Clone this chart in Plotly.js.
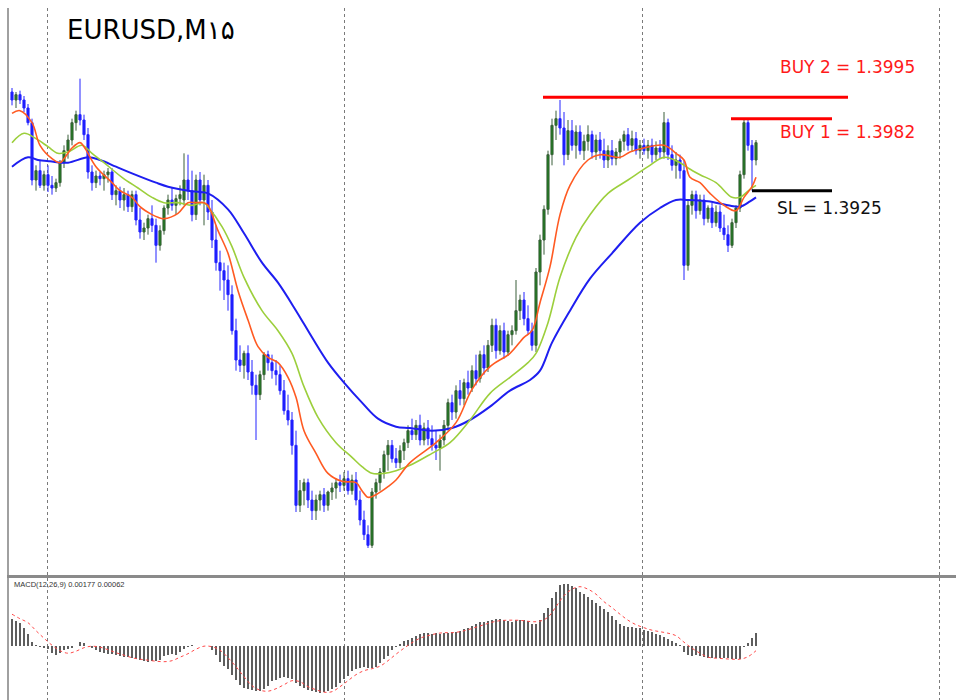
<!DOCTYPE html>
<html><head><meta charset="utf-8">
<script src="https://cdn.plot.ly/plotly-3.0.1.min.js"></script>
<style>html,body{margin:0;padding:0;background:#fff;}#chart{width:956px;height:700px;}</style>
</head><body><div id="chart"></div>
<script>
// EURUSD M15 candles
const openP = [1.3999,1.3993,1.3997,1.3993,1.3987,1.3976,1.3933,1.3940,1.3929,1.3937,
1.3929,1.3927,1.3931,1.3946,1.3955,1.3963,1.3976,1.3982,1.3978,1.3967,
1.3939,1.3931,1.3936,1.3934,1.3937,1.3939,1.3922,1.3925,1.3918,1.3922,
1.3913,1.3922,1.3903,1.3894,1.3897,1.3904,1.3899,1.3884,1.3895,1.3912,
1.3918,1.3914,1.3919,1.3918,1.3933,1.3925,1.3907,1.3933,1.3918,1.3929,
1.3909,1.3888,1.3871,1.3865,1.3858,1.3847,1.3820,1.3798,1.3794,1.3803,
1.3789,1.3779,1.3772,1.3787,1.3802,1.3796,1.3790,1.3787,1.3775,1.3760,
1.3753,1.3734,1.3689,1.3700,1.3706,1.3693,1.3685,1.3693,1.3697,1.3689,
1.3699,1.3702,1.3706,1.3704,1.3709,1.3700,1.3708,1.3693,1.3678,1.3667,
1.3659,1.3699,1.3706,1.3714,1.3727,1.3734,1.3724,1.3721,1.3730,1.3736,
1.3745,1.3742,1.3749,1.3738,1.3747,1.3739,1.3734,1.3732,1.3738,1.3749,
1.3766,1.3759,1.3775,1.3769,1.3781,1.3777,1.3790,1.3784,1.3802,1.3792,
1.3809,1.3824,1.3805,1.3820,1.3804,1.3817,1.3820,1.3835,1.3843,1.3829,
1.3820,1.3809,1.3864,1.3888,1.3911,1.3952,1.3974,1.3979,1.3972,1.3952,
1.3970,1.3959,1.3969,1.3955,1.3962,1.3967,1.3954,1.3963,1.3955,1.3948,
1.3955,1.3949,1.3954,1.3962,1.3967,1.3959,1.3964,1.3955,1.3959,1.3955,
1.3959,1.3952,1.3957,1.3954,1.3976,1.3952,1.3944,1.3948,1.3940,1.3869,
1.3914,1.3922,1.3910,1.3918,1.3904,1.3912,1.3901,1.3909,1.3897,1.3892,
1.3884,1.3901,1.3912,1.3937,1.3976,1.3959,1.3948];
const highP = [1.4002,1.3999,1.4000,1.3996,1.3990,1.3979,1.3944,1.3948,1.3940,1.3944,
1.3936,1.3934,1.3948,1.3959,1.3967,1.3979,1.3985,1.4009,1.3982,1.3972,
1.3944,1.3940,1.3939,1.3940,1.3942,1.3942,1.3929,1.3928,1.3927,1.3925,
1.3925,1.3925,1.3912,1.3901,1.3907,1.3914,1.3904,1.3899,1.3914,1.3922,
1.3927,1.3922,1.3929,1.3953,1.3952,1.3940,1.3937,1.3939,1.3937,1.3933,
1.3918,1.3899,1.3880,1.3871,1.3869,1.3854,1.3829,1.3809,1.3805,1.3809,
1.3798,1.3787,1.3790,1.3804,1.3805,1.3802,1.3798,1.3794,1.3783,1.3772,
1.3759,1.3745,1.3708,1.3709,1.3709,1.3700,1.3697,1.3700,1.3702,1.3700,
1.3706,1.3709,1.3712,1.3714,1.3715,1.3712,1.3714,1.3700,1.3685,1.3674,
1.3702,1.3709,1.3717,1.3730,1.3738,1.3738,1.3732,1.3734,1.3739,1.3749,
1.3754,1.3753,1.3757,1.3751,1.3753,1.3749,1.3745,1.3742,1.3753,1.3769,
1.3772,1.3779,1.3783,1.3784,1.3790,1.3794,1.3802,1.3805,1.3809,1.3813,
1.3829,1.3829,1.3824,1.3826,1.3820,1.3824,1.3858,1.3847,1.3849,1.3839,
1.3826,1.3867,1.3892,1.3914,1.3955,1.3979,1.3985,1.3993,1.3984,1.3978,
1.3978,1.3974,1.3974,1.3967,1.3974,1.3970,1.3967,1.3969,1.3964,1.3959,
1.3963,1.3957,1.3964,1.3970,1.3972,1.3970,1.3969,1.3963,1.3964,1.3963,
1.3964,1.3962,1.3963,1.3984,1.3979,1.3959,1.3954,1.3952,1.3948,1.3918,
1.3925,1.3925,1.3922,1.3922,1.3914,1.3916,1.3914,1.3914,1.3907,1.3899,
1.3904,1.3914,1.3940,1.3979,1.3978,1.3963,1.3963];
const lowP = [1.3989,1.3987,1.3990,1.3984,1.3974,1.3929,1.3925,1.3927,1.3925,1.3924,
1.3922,1.3924,1.3928,1.3942,1.3949,1.3959,1.3970,1.3974,1.3963,1.3934,
1.3925,1.3927,1.3929,1.3925,1.3931,1.3918,1.3914,1.3912,1.3910,1.3909,
1.3909,1.3899,1.3889,1.3888,1.3892,1.3894,1.3871,1.3880,1.3892,1.3907,
1.3910,1.3907,1.3914,1.3914,1.3918,1.3902,1.3903,1.3914,1.3899,1.3903,
1.3882,1.3865,1.3850,1.3843,1.3835,1.3817,1.3790,1.3789,1.3784,1.3783,
1.3772,1.3738,1.3768,1.3783,1.3790,1.3784,1.3779,1.3772,1.3757,1.3749,
1.3727,1.3684,1.3684,1.3689,1.3687,1.3678,1.3678,1.3685,1.3684,1.3685,
1.3693,1.3694,1.3699,1.3700,1.3697,1.3697,1.3689,1.3674,1.3663,1.3657,
1.3657,1.3694,1.3700,1.3709,1.3715,1.3721,1.3717,1.3717,1.3723,1.3732,
1.3738,1.3738,1.3734,1.3734,1.3734,1.3730,1.3723,1.3715,1.3734,1.3745,
1.3753,1.3754,1.3764,1.3764,1.3772,1.3774,1.3779,1.3781,1.3787,1.3789,
1.3804,1.3799,1.3802,1.3799,1.3801,1.3809,1.3817,1.3828,1.3824,1.3817,
1.3805,1.3804,1.3854,1.3877,1.3907,1.3944,1.3963,1.3967,1.3944,1.3948,
1.3955,1.3949,1.3952,1.3948,1.3955,1.3949,1.3948,1.3949,1.3942,1.3942,
1.3944,1.3944,1.3949,1.3955,1.3955,1.3954,1.3952,1.3949,1.3952,1.3949,
1.3946,1.3948,1.3949,1.3949,1.3948,1.3940,1.3934,1.3934,1.3858,1.3865,
1.3907,1.3904,1.3907,1.3899,1.3901,1.3897,1.3898,1.3894,1.3888,1.3879,
1.3882,1.3897,1.3909,1.3934,1.3955,1.3925,1.3944];
const closeP = [1.3993,1.3997,1.3993,1.3987,1.3976,1.3933,1.3940,1.3929,1.3937,1.3929,
1.3927,1.3931,1.3946,1.3955,1.3963,1.3976,1.3982,1.3978,1.3967,1.3939,
1.3931,1.3936,1.3934,1.3937,1.3939,1.3922,1.3925,1.3918,1.3922,1.3913,
1.3922,1.3903,1.3894,1.3897,1.3904,1.3899,1.3884,1.3895,1.3912,1.3918,
1.3914,1.3919,1.3922,1.3933,1.3925,1.3907,1.3933,1.3918,1.3929,1.3909,
1.3888,1.3871,1.3865,1.3858,1.3847,1.3820,1.3798,1.3794,1.3803,1.3789,
1.3779,1.3772,1.3787,1.3802,1.3796,1.3790,1.3787,1.3775,1.3760,1.3753,
1.3734,1.3689,1.3700,1.3706,1.3693,1.3685,1.3693,1.3697,1.3689,1.3699,
1.3702,1.3706,1.3704,1.3709,1.3700,1.3708,1.3693,1.3678,1.3667,1.3659,
1.3699,1.3706,1.3714,1.3727,1.3734,1.3724,1.3721,1.3730,1.3736,1.3745,
1.3742,1.3749,1.3738,1.3747,1.3739,1.3734,1.3732,1.3738,1.3749,1.3766,
1.3759,1.3775,1.3769,1.3781,1.3777,1.3790,1.3784,1.3802,1.3792,1.3809,
1.3824,1.3805,1.3820,1.3804,1.3817,1.3820,1.3835,1.3843,1.3829,1.3820,
1.3809,1.3864,1.3888,1.3911,1.3952,1.3974,1.3979,1.3972,1.3952,1.3970,
1.3959,1.3969,1.3955,1.3962,1.3967,1.3954,1.3963,1.3955,1.3948,1.3955,
1.3949,1.3954,1.3962,1.3967,1.3959,1.3964,1.3955,1.3959,1.3955,1.3959,
1.3952,1.3957,1.3954,1.3976,1.3952,1.3944,1.3948,1.3940,1.3869,1.3914,
1.3922,1.3910,1.3918,1.3904,1.3912,1.3901,1.3909,1.3897,1.3892,1.3884,
1.3901,1.3912,1.3937,1.3976,1.3959,1.3948,1.3961];

// moving averages (bar index, price)
const maFastX = [0,2,5,7,10,12,13,15,17,18,21,25,27,30,32,35,36.5,38,41.5,44,46,48,49,51.5,54,56.5,59,61.5,64,66.5,69,71,73,76,79,82.5,86,87.5,89,91,94,96,99.5,106,111,115,119.5,124.5,128,130,132,134.5,137,139.5,144,147,152,154.5,158,163,166,168,169.5,172,174.5,178,181,183,185,186];
const maFast = [1.3983,1.3985,1.3976,1.3959,1.3949,1.3946,1.3949,1.3957,1.3961,1.3958,1.3943,1.3931,1.3925,1.3920,1.3913,1.3907,1.3905,1.3904,1.3908,1.3916,1.3916,1.3916,1.3914,1.3895,1.3878,1.3850,1.3828,1.3808,1.3800,1.3796,1.3785,1.3770,1.3745,1.3728,1.3713,1.3707,1.3706,1.3700,1.3695,1.3697,1.3703,1.3708,1.3721,1.3736,1.3751,1.3776,1.3793,1.3803,1.3815,1.3820,1.3841,1.3868,1.3907,1.3929,1.3948,1.3952,1.3950,1.3954,1.3957,1.3959,1.3953,1.3948,1.3935,1.3931,1.3923,1.3914,1.3910,1.3920,1.3928,1.3935];
const maMidX = [0,3,6,9,11.5,14,17.5,20,23,27.5,31.5,35,38,41.5,45,48,49,52.5,55,58,62.5,66.5,70,73,76.5,81,85,87.5,90,93,96,99.5,105,109.5,114.5,119.5,124.5,129,131,134,137,141,144.5,149,154,159,163,167,169,172,176,180,182,184.5,186];
const maMid = [1.3961,1.3968,1.3964,1.3958,1.3953,1.3954,1.3959,1.3953,1.3946,1.3935,1.3927,1.3920,1.3916,1.3916,1.3914,1.3916,1.3913,1.3898,1.3883,1.3860,1.3835,1.3820,1.3803,1.3778,1.3755,1.3736,1.3725,1.3718,1.3713,1.3713,1.3715,1.3719,1.3728,1.3736,1.3753,1.3773,1.3785,1.3796,1.3803,1.3826,1.3860,1.3890,1.3907,1.3923,1.3933,1.3943,1.3950,1.3946,1.3942,1.3937,1.3931,1.3920,1.3920,1.3926,1.3929];
const maSlowX = [0,4,6.5,9.5,14,19,22,26,30,36,39,44,47,49,54,58,62.5,66.5,71,75,79,83,87.5,91.5,96,99.5,105,110,114.5,119.5,124.5,129.5,132,135,139.5,144.5,150,157,162,166,169,174,179,182,184.5,186];
const maSlow = [1.3943,1.3950,1.3948,1.3947,1.3946,1.3950,1.3948,1.3943,1.3938,1.3931,1.3928,1.3925,1.3924,1.3923,1.3911,1.3893,1.3871,1.3856,1.3835,1.3815,1.3796,1.3781,1.3766,1.3754,1.3748,1.3747,1.3745,1.3747,1.3753,1.3763,1.3775,1.3783,1.3790,1.3811,1.3835,1.3859,1.3878,1.3901,1.3912,1.3918,1.3918,1.3917,1.3914,1.3913,1.3917,1.3920];

// MACD(12,26,9) histogram, in points, one per bar
const macdHist = [53,49,45,35,23,8,2,-3,-4,-7,
-14,-18,-14,-9,-7,-4,-1,8,5,0,
-5,-8,-12,-14,-16,-17,-18,-21,-22,-23,
-25,-27,-29,-31,-32,-30,-31,-29,-21,-19,
-17,-18,-12,-6,-2,1,-1,-1,-1,-1,
-9,-19,-32,-41,-47,-59,-69,-79,-85,-86,
-88,-90,-90,-86,-80,-71,-68,-65,-63,-64,
-67,-74,-81,-85,-88,-91,-93,-95,-93,-91,
-86,-82,-75,-67,-60,-51,-46,-44,-43,-44,
-45,-43,-35,-27,-20,-9,-2,3,9,12,
16,19,23,26,26,24,25,23,25,26,
27,28,30,33,35,40,43,48,48,50,
51,53,53,51,50,48,51,51,52,50,
43,43,51,65,75,95,108,121,123,123,
119,115,108,103,98,91,86,79,73,67,
59,52,43,39,38,37,36,35,32,29,
27,24,21,18,14,9,5,1,-13,-19,
-21,-19,-21,-23,-25,-25,-25,-25,-25,-25,
-27,-27,-27,-3,5,15,25];
const signalX = [0,2,4,6,8,10,12,14,16,18,20,22,24,26,28,30,32,34,36,38,40,42,44,46,48,50,52,54,56,58,60,62,64,66,68,70,72,74,76,78,80,82,84,86,88,90,92,94,96,98,100,102,104,106,108,110,112,114,116,118,120,122,124,126,128,130,132,134,136,138,140,142,144,146,148,150,152,154,156,158,160,162,164,166,168,170,172,174,176,178,180,182,184,186];
const signalVals = [63,54,46,30,15,1,-10,-15,-11,-4,
-1,-3,-8,-14,-19,-24,-27,-29,-31,-32,
-30,-23,-16,-7,-1,-2,-9,-24,-42,-62,
-80,-89,-91,-86,-78,-70,-72,-82,-88,-93,
-92,-82,-70,-58,-50,-46,-41,-30,-17,-5,
6,15,20,24,26,26,28,32,37,42,
47,50,51,51,50,48,49,57,78,100,
113,118,113,103,88,76,63,51,42,36,
31,28,25,20,7,-5,-15,-23,-25,-26,
-27,-27,-22,-10];

// trade levels
const levelLabels = ['BUY 2 = 1.3995', 'BUY 1 = 1.3982', 'SL = 1.3925'];
const levelDrawn = [1.3995, 1.3979, 1.3925];
const chartTitle = 'EURUSD,M\u06F1\u06F5';
const macdLabel = 'MACD(12,26,9) 0.00177 0.00062';

const barIdx = openP.map((_, i) => i);

const traces = [
  {type:'candlestick', x:barIdx, open:openP, high:highP, low:lowP, close:closeP,
   xaxis:'x', yaxis:'y', hoverinfo:'skip',
   increasing:{line:{color:'#3a5f3a', width:1}, fillcolor:'#1a7f1a'},
   decreasing:{line:{color:'#2424ff', width:1}, fillcolor:'#1a1aff'}},
  {type:'scatter', mode:'lines', x:maSlowX, y:maSlow, xaxis:'x', yaxis:'y',
   line:{color:'#1e1ef0', width:2, shape:'spline', smoothing:1}, hoverinfo:'skip'},
  {type:'scatter', mode:'lines', x:maMidX, y:maMid, xaxis:'x', yaxis:'y',
   line:{color:'#9ccf3c', width:1.6, shape:'spline', smoothing:1}, hoverinfo:'skip'},
  {type:'scatter', mode:'lines', x:maFastX, y:maFast, xaxis:'x', yaxis:'y',
   line:{color:'#ff5a22', width:1.6, shape:'spline', smoothing:1}, hoverinfo:'skip'},
  {type:'bar', x:barIdx, y:macdHist, xaxis:'x2', yaxis:'y2', width:0.4,
   marker:{color:'#5e5e5e', line:{width:0}}, hoverinfo:'skip'},
  {type:'scatter', mode:'lines', x:signalX, y:signalVals, xaxis:'x2', yaxis:'y2',
   line:{color:'#ff4a4a', width:1, dash:'dot', shape:'spline'}, hoverinfo:'skip'}
];

const gridX = {tickmode:'linear', tick0:8.75, dtick:74.4, showgrid:true, gridcolor:'#7a7a7a',
  griddash:'dot', gridwidth:1, showticklabels:false, ticks:'', zeroline:false, range:[-0.75, 236]};

const layout = {
  width:956, height:700,
  margin:{l:9, r:0, t:8, b:0},
  paper_bgcolor:'#ffffff', plot_bgcolor:'#ffffff',
  showlegend:false, bargap:0, boxgap:0.25,
  xaxis:Object.assign({}, gridX, {anchor:'y', domain:[0,1], rangeslider:{visible:false},
    showline:true, linecolor:'#8a8a8a', linewidth:3}),
  yaxis:{anchor:'x', domain:[0.18064, 1], range:[1.363675, 1.4062], showgrid:false,
    zeroline:false, showticklabels:false, ticks:'', showline:true, linecolor:'#a0a0a0', linewidth:2},
  xaxis2:Object.assign({}, gridX, {anchor:'y2', domain:[0,1], matches:'x',
    showline:true, linecolor:'#b0b0b0', linewidth:2}),
  yaxis2:{anchor:'x2', domain:[0, 0.1763], range:[-108.6, 135.4], showgrid:false,
    zeroline:false, showticklabels:false, ticks:'', showline:true, linecolor:'#a0a0a0', linewidth:2},
  shapes:[
    {type:'line', xref:'x', yref:'y', x0:132.75, x1:209, y0:levelDrawn[0], y1:levelDrawn[0],
     line:{color:'#ff0000', width:3}},
    {type:'line', xref:'x', yref:'y', x0:179.75, x1:205, y0:levelDrawn[1], y1:levelDrawn[1],
     line:{color:'#ff0000', width:3}},
    {type:'line', xref:'x', yref:'y', x0:185, x1:205, y0:levelDrawn[2], y1:levelDrawn[2],
     line:{color:'#000000', width:3}}
  ],
  annotations:[
    {xref:'paper', yref:'paper', x:0.0590, y:0.9682, xanchor:'left', yanchor:'middle',
     showarrow:false, text:chartTitle, font:{family:'DejaVu Sans', size:26, color:'#000000'}},
    {xref:'paper', yref:'paper', x:0.8120, y:0.9147, xanchor:'left', yanchor:'middle',
     showarrow:false, text:levelLabels[0], font:{family:'DejaVu Sans', size:17, color:'#ff1a1a'}},
    {xref:'paper', yref:'paper', x:0.8120, y:0.8208, xanchor:'left', yanchor:'middle',
     showarrow:false, text:levelLabels[1], font:{family:'DejaVu Sans', size:17, color:'#ff1a1a'}},
    {xref:'paper', yref:'paper', x:0.8088, y:0.7110, xanchor:'left', yanchor:'middle',
     showarrow:false, text:levelLabels[2], font:{family:'DejaVu Sans', size:17, color:'#111111'}},
    {xref:'paper', yref:'paper', x:0.0032, y:0.1676, xanchor:'left', yanchor:'middle',
     showarrow:false, text:macdLabel, font:{family:'Liberation Sans', size:7.5, color:'#333333'}}
  ]
};

Plotly.newPlot('chart', traces, layout, {staticPlot:true, displayModeBar:false});
</script>
</body></html>
